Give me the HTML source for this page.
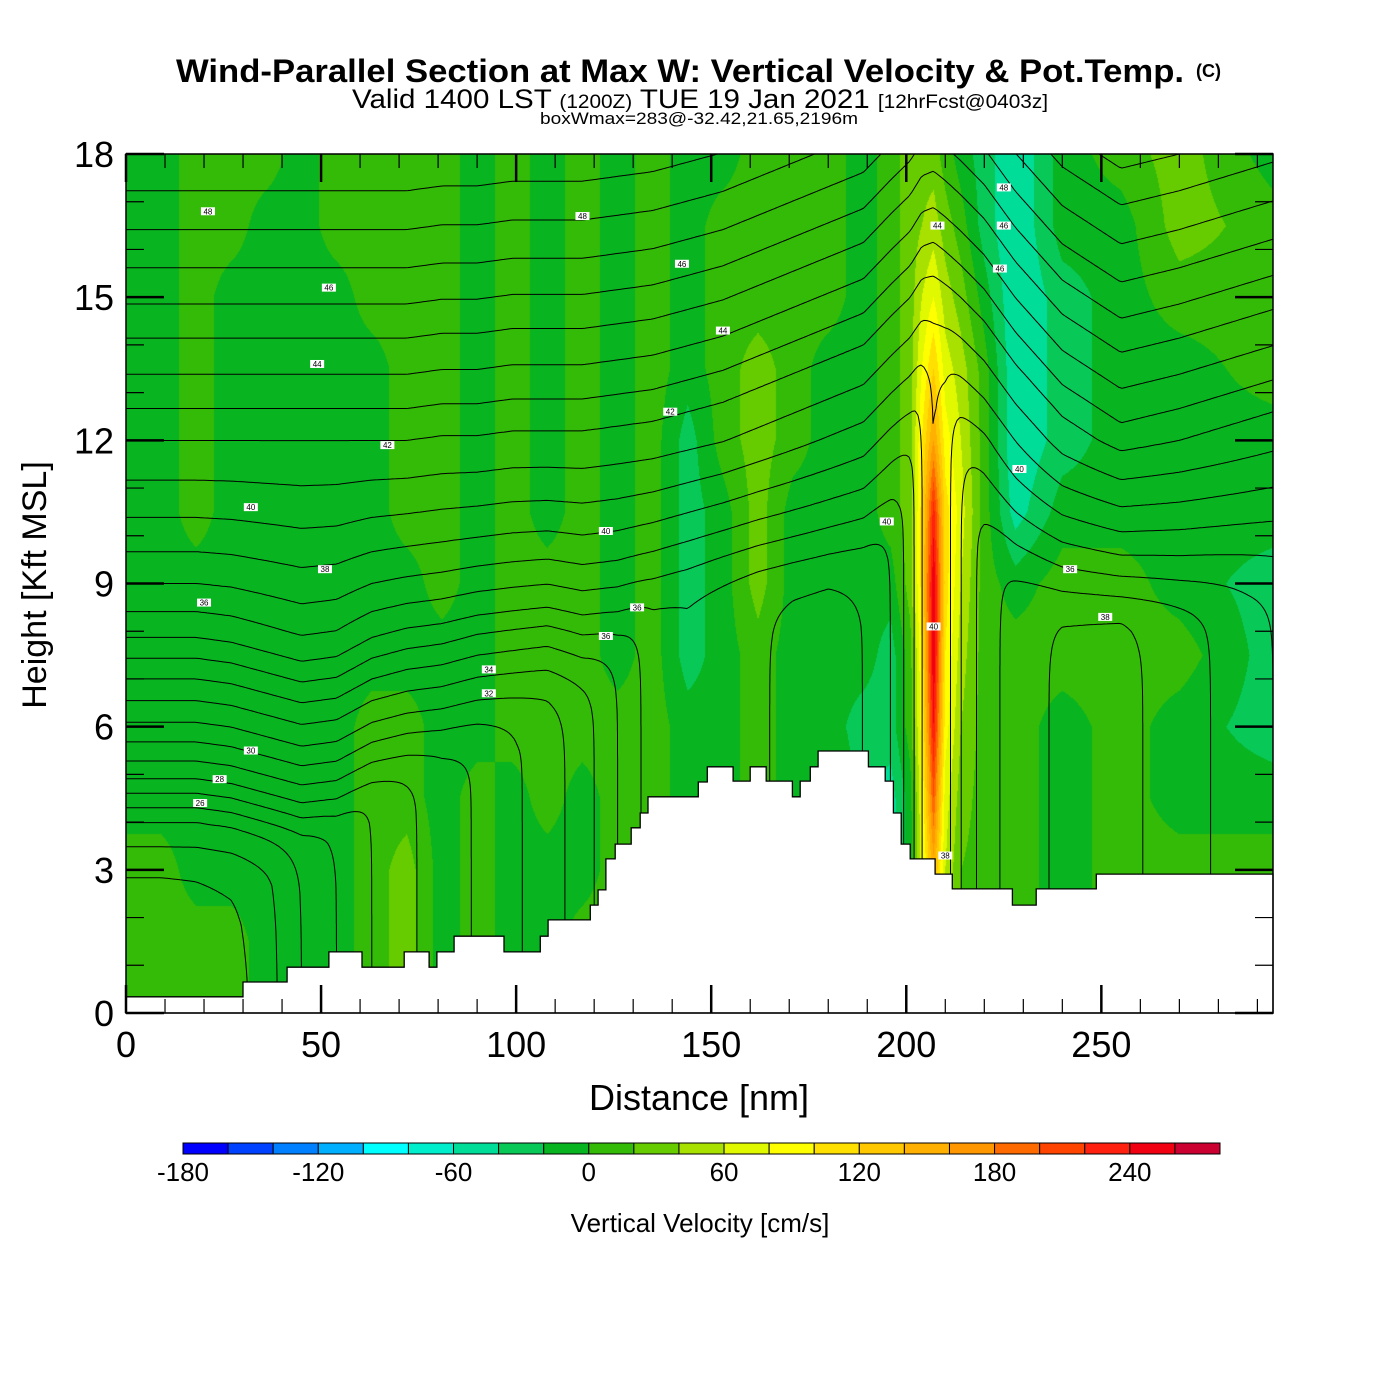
<!DOCTYPE html>
<html><head><meta charset="utf-8">
<style>
html,body{margin:0;padding:0;background:#fff;}
#wrap{position:relative;width:1400px;height:1400px;overflow:hidden;font-family:"Liberation Sans",Arial,sans-serif;}
#field{position:absolute;left:126px;top:154px;}
#ov{position:absolute;left:0;top:0;}
</style></head>
<body>
<div id="wrap">
<canvas id="field" width="1147" height="859"></canvas>
<svg id="ov" width="1400" height="1400" xmlns="http://www.w3.org/2000/svg">
  <g id="contours" fill="none" stroke="#000" stroke-width="1"></g>
  <path id="terrain" fill="#fff" stroke="#000" stroke-width="1.3"></path>
  <g id="clabels"></g>
  <rect x="126" y="154" width="1147" height="859" fill="none" stroke="#000" stroke-width="1.5"></rect>
  <g id="ticks" stroke="#000"></g>
  <g id="tlabels" font-family="Liberation Sans, Arial, sans-serif" font-size="36" fill="#000"></g>
  <text x="680" y="82" text-anchor="middle" font-size="32" font-weight="bold" textLength="1008" lengthAdjust="spacingAndGlyphs">Wind-Parallel Section at Max W: Vertical Velocity &amp; Pot.Temp.</text>
  <text x="1196" y="77" font-size="18" font-weight="bold">(C)</text>
  <text x="352" y="108" font-size="27" textLength="696" lengthAdjust="spacingAndGlyphs">Valid 1400 LST <tspan font-size="19">(1200Z)</tspan> TUE 19 Jan 2021 <tspan font-size="19">[12hrFcst@0403z]</tspan></text>
  <text x="540" y="124" font-size="17" textLength="318" lengthAdjust="spacingAndGlyphs">boxWmax=283@-32.42,21.65,2196m</text>
  <text x="699" y="1110" text-anchor="middle" font-size="36">Distance [nm]</text>
  <text transform="translate(46,585) rotate(-90)" text-anchor="middle" font-size="34">Height [Kft MSL]</text>
  <g id="cbar"></g>
  <text x="700" y="1232" text-anchor="middle" font-size="26">Vertical Velocity [cm/s]</text>
</svg>
</div>
<script>
// ---- data ----
const xs=[0,9,18,27,36,45,54,63,72,81,90,99,108,117,126,135,144,153,162,171,180,189,196,201,204,207,210,214,220,228,240,255,270,294];
const wHeights=[0,1.5,3,4.5,6,7.5,9,10.5,12,13.5,15,16.5,18];
const w00=[10,10,10,10,-10,-10,-10,10,30,-10,10,-10,-10,10,10,10,-10,-10,10,-10,10,-30,-50,-10,70,150,60,20,10,10,-10,10,10,10];
const w15=[10,10,10,10,-10,-10,-10,10,30,-10,10,-10,-10,10,10,10,-10,-10,10,-10,10,-30,-50,-10,70,150,60,20,10,10,-10,10,10,10];
const w30=[10,10,-10,-10,-10,-10,-10,10,30,-10,10,-10,-10,-10,10,10,-10,-10,10,-10,10,-30,-50,-10,70,150,60,20,10,10,-10,10,10,10];
const w45=[-10,-10,-10,-10,-10,-10,-10,10,10,-10,10,-10,10,-10,10,10,-10,-10,10,-10,10,-30,-50,-10,80,200,70,30,10,10,-10,10,-10,-10];
const w60=[-10,-10,-10,-10,-10,-10,-10,10,10,-10,-10,10,10,10,10,10,-10,-10,10,-10,-10,-30,-30,10,90,240,90,40,10,10,-10,10,-10,-30];
const w75=[-10,-10,-10,-10,-10,-10,-10,-10,-10,-10,-10,10,10,10,-10,10,-30,-10,10,-10,-10,-10,-30,10,100,260,100,50,10,10,10,10,10,-30];
const w90=[-10,-10,-10,-10,-10,-10,-10,-10,-10,10,-10,10,10,10,-10,10,-30,-10,30,-10,-10,-10,-10,30,110,260,110,60,10,-10,10,10,-10,-30];
const w105=[-10,-10,10,-10,-10,-10,-10,-10,10,10,-10,10,-10,10,-10,10,-30,-10,30,-10,-10,-10,10,30,110,230,110,70,10,-50,-10,-10,-10,-10];
const w120=[-10,-10,10,-10,-10,-10,-10,-10,10,10,-10,10,-10,10,-10,10,-30,10,30,10,-10,-10,10,30,100,160,90,60,10,-60,-30,-10,-10,-10];
const w135=[-10,-10,10,-10,-10,-10,-10,-10,10,10,-10,10,-10,10,-10,10,-10,10,30,10,-10,-10,10,30,80,120,70,50,10,-60,-30,-10,-10,10];
const w150=[-10,-10,10,-10,-10,-10,-10,10,10,10,-10,10,-10,10,-10,10,-10,10,10,10,10,-10,10,30,60,80,50,30,-10,-60,-30,-10,10,10];
const w165=[-10,-10,10,10,-10,-10,10,10,10,10,-10,10,-10,10,-10,10,-10,10,10,10,10,-10,10,30,40,50,30,10,-30,-60,-10,-10,30,10];
const w180=[-10,-10,10,10,10,-10,10,10,10,10,-10,10,-10,10,-10,10,-10,-10,10,10,10,-10,10,30,30,30,10,-10,-30,-60,-10,10,30,-10];
const wRows=[w00,w15,w30,w45,w60,w75,w90,w105,w120,w135,w150,w165,w180];
const bandColors=["#0000ff","#0040ff","#0080ff","#00b0ff","#00ffff","#00eecc","#00dd99","#08c858","#08b420","#33bb08","#66cc00","#a8e000","#e0f800","#ffff00","#ffe000","#ffc800","#ffb000","#ff9800","#ff6a00","#ff4400","#ff2010","#f00010","#cc0030"];
const bandMin=-180, bandStep=20;
// potential temperature: base profile at left edge (h=0..18 kft), mixed-layer values and isentrope lift per column
const thetaBase=[21.8,22.2,22.7,23.5,25.5,28.8,31.3,33.5,35.8,37.5,39,40.3,41.5,43,44.3,45.7,47,48.2,49.5];
const thetaMixed=[22,22,22.3,22.8,24,25.5,26.5,27.5,28.3,29,29.6,30.3,31,32,33.5,35,35.3,35,34.6,34.3,34.2,34.5,35.5,37,38.5,39.5,39,37.5,36,35,34.3,34.2,35,36.5];
const liftMid=[0,0,0,-0.1,-0.3,-0.5,-0.4,0,0.2,0.3,0.5,0.6,0.7,0.5,0.6,0.9,1.2,1.5,1.7,1.8,1.9,2.0,2.3,2.8,3.3,3.6,3.3,2.5,1.8,1.4,1.2,1.2,1.0,0.8];
const liftUp=[0,0,0,0,0,0,0,0,0,0.1,0.1,0.2,0.2,0.2,0.3,0.4,0.6,0.8,1.1,1.4,1.7,2.0,2.6,3.0,3.4,3.5,3.3,3.0,2.5,1.6,0.5,-0.3,0,0.6];
const terrainX=[0,30,41.3,52,60.5,71.3,77.7,79.7,84.1,96.9,106.2,108.2,119,121,123,125.4,129.5,131.8,133.8,146.7,149,155.6,160,164.1,170.8,172.8,175.4,177.4,190.3,194.6,196.7,198.7,201,207.4,211.8,227.2,233.3,248.7,294];
const terrainH=[0.34,0.65,0.96,1.28,0.96,1.28,0.96,1.28,1.61,1.28,1.61,1.95,2.26,2.58,3.23,3.54,3.88,4.19,4.53,4.84,5.16,4.86,5.16,4.86,4.53,4.86,5.16,5.49,5.16,4.86,4.19,3.54,3.23,2.91,2.6,2.26,2.6,2.91];
const xTicks=[0,50,100,150,200,250];
const yTicks=[0,3,6,9,12,15,18];
const cbTicks=[-180,-120,-60,0,60,120,180,240];
const labelX=[21,117,52,142.5,49,153,139.5,67,208,225,225,224,32,123,195,229,51,20,131,123,93,93,32,24,19,207,210,242,251];
const labelH=[16.8,16.7,15.2,15.7,13.6,14.3,12.6,11.9,16.5,17.3,16.5,15.6,10.6,10.1,10.3,11.4,9.3,8.6,8.5,7.9,7.2,6.7,5.5,4.9,4.4,8.1,3.3,9.3,8.3];
const labelText=["48","48","46","46","44","44","42","42","44","48","46","46","40","40","40","40","38","36","36","36","34","32","30","28","26","40","38","36","38"];

// ---- axes ----
const X0=126,X1=1273,Y0=1013,Y1=154,XMAX=294,HMAX=18;
function X(nm){return X0+nm*(X1-X0)/XMAX;}
function Y(h){return Y0-h*(Y0-Y1)/HMAX;}
const NS="http://www.w3.org/2000/svg";
function mk(tag,attrs,parent){const e=document.createElementNS(NS,tag);for(const k in attrs)e.setAttribute(k,attrs[k]);parent.appendChild(e);return e;}

function colIndex(nm){let i=0;while(i<xs.length-2&&nm>xs[i+1])i++;return i;}
function lerpCol(arr,nm){const i=colIndex(nm);const t=Math.max(0,Math.min(1,(nm-xs[i])/(xs[i+1]-xs[i])));return arr[i]*(1-t)+arr[i+1]*t;}

// ---- vertical velocity fill ----
(function(){
  const cv=document.getElementById('field');const ctx=cv.getContext('2d');
  const W=cv.width,H=cv.height;const img=ctx.createImageData(W,H);
  const rgb=bandColors.map(c=>[parseInt(c.substr(1,2),16),parseInt(c.substr(3,2),16),parseInt(c.substr(5,2),16)]);
  const ci=[],ct=[];
  for(let px=0;px<W;px++){const nm=(px+0.5)*XMAX/(X1-X0);const i=colIndex(nm);ci.push(i);ct.push(Math.max(0,Math.min(1,(nm-xs[i])/(xs[i+1]-xs[i]))));}
  const dh=wHeights[1]-wHeights[0];
  for(let py=0;py<H;py++){
    const h=(H-py-0.5)*HMAX/(Y0-Y1);
    let r=Math.min(wRows.length-2,Math.floor(h/dh));const u=(h-wHeights[r])/dh;
    const A=wRows[r],B=wRows[r+1];
    for(let px=0;px<W;px++){
      const i=ci[px],t=ct[px];
      const v=(A[i]*(1-t)+A[i+1]*t)*(1-u)+(B[i]*(1-t)+B[i+1]*t)*u;
      let b=Math.floor((v-bandMin)/bandStep);b=Math.max(0,Math.min(rgb.length-1,b));
      const o=(py*W+px)*4;img.data[o]=rgb[b][0];img.data[o+1]=rgb[b][1];img.data[o+2]=rgb[b][2];img.data[o+3]=255;
    }
  }
  ctx.putImageData(img,0,0);
})();

// ---- theta contours ----
function baseTheta(z){if(z<=0)return thetaBase[0];if(z>=18)return thetaBase[18]+(z-18)*1.3;const k=Math.floor(z);return thetaBase[k]+(thetaBase[k+1]-thetaBase[k])*(z-k);}
function theta(nm,h){
  const m=lerpCol(thetaMixed,nm),sm=lerpCol(liftMid,nm),su=lerpCol(liftUp,nm);
  const f=Math.max(0,Math.min(1,(h-8)/4));const s=sm*(1-f)+su*f;
  const b=baseTheta(h-s);const k=0.8;const mx=Math.max(m,b);
  return mx+k*Math.log(Math.exp((m-mx)/k)+Math.exp((b-mx)/k));
}
(function(){
  const g=document.getElementById('contours');
  const step=3;const nx=Math.ceil((X1-X0)/step)+1,ny=Math.ceil((Y0-Y1)/step)+1;
  const gx=[],gy=[];for(let i=0;i<nx;i++)gx.push(Math.min(X1,X0+i*step));for(let j=0;j<ny;j++)gy.push(Math.min(Y0,Y1+j*step));
  const T=[];for(let j=0;j<ny;j++){const row=[];const h=(Y0-gy[j])*HMAX/(Y0-Y1);for(let i=0;i<nx;i++){row.push(theta((gx[i]-X0)*XMAX/(X1-X0),h));}T.push(row);}
  for(let L=20.5;L<53;L+=1){
    let d="";
    for(let j=0;j<ny-1;j++)for(let i=0;i<nx-1;i++){
      const a=T[j][i],b=T[j][i+1],c=T[j+1][i+1],e=T[j+1][i];
      const pts=[];
      if((a-L)*(b-L)<0){const t=(L-a)/(b-a);pts.push([gx[i]+t*(gx[i+1]-gx[i]),gy[j]]);}
      if((b-L)*(c-L)<0){const t=(L-b)/(c-b);pts.push([gx[i+1],gy[j]+t*(gy[j+1]-gy[j])]);}
      if((e-L)*(c-L)<0){const t=(L-e)/(c-e);pts.push([gx[i]+t*(gx[i+1]-gx[i]),gy[j+1]]);}
      if((a-L)*(e-L)<0){const t=(L-a)/(e-a);pts.push([gx[i],gy[j]+t*(gy[j+1]-gy[j])]);}
      for(let k=0;k+1<pts.length;k+=2)d+="M"+pts[k][0].toFixed(1)+" "+pts[k][1].toFixed(1)+"L"+pts[k+1][0].toFixed(1)+" "+pts[k+1][1].toFixed(1);
    }
    if(d){const p=mk('path',{d:d},g);
      
      }
  }
})();

// ---- terrain ----
(function(){
  let d="M"+X(0)+" "+Y0;
  for(let i=0;i<terrainH.length;i++){d+="L"+X(terrainX[i]).toFixed(1)+" "+Y(terrainH[i]).toFixed(1)+"L"+X(terrainX[i+1]).toFixed(1)+" "+Y(terrainH[i]).toFixed(1);}
  d+="L"+X(XMAX)+" "+Y0+"Z";
  document.getElementById('terrain').setAttribute('d',d);
})();

// ---- contour labels ----
(function(){
  const g=document.getElementById('clabels');
  for(let k=0;k<labelText.length;k++){
    const x=X(labelX[k]),y=Y(labelH[k]);
    const r=mk('rect',{x:x-7,y:y-4,width:14,height:8,fill:'#fff'},g);
    
    
    const t=mk('text',{x:x,y:y+3,'text-anchor':'middle','font-size':8,'font-family':'Liberation Sans, Arial, sans-serif'},g);
    
    
    t.textContent=labelText[k];
  }
})();

// ---- ticks & labels ----
(function(){
  const g=document.getElementById('ticks'),tl=document.getElementById('tlabels');
  for(let v=0;v<=XMAX;v+=10){
    const major=v%50===0;const len=major?28:14;const x=X(v);
    const a=mk('line',{x1:x,y1:Y0,x2:x,y2:Y0-len,'stroke-width':major?2.5:1.2},g);
    
    
    const b=mk('line',{x1:x,y1:Y1,x2:x,y2:Y1+len,'stroke-width':major?2.5:1.2},g);
    
    
  }
  for(let v=0;v<=HMAX;v+=1){
    const major=v%3===0;const len=major?38:18;const y=Y(v);
    const a=mk('line',{x1:X0,y1:y,x2:X0+len,y2:y,'stroke-width':major?2.5:1.2},g);
    
    
    const b=mk('line',{x1:X1,y1:y,x2:X1-len,y2:y,'stroke-width':major?2.5:1.2},g);
    
    
  }
  xTicks.forEach(v=>{const t=mk('text',{x:X(v),y:1057,'text-anchor':'middle'},tl);
    
    
    t.textContent=v;});
  yTicks.forEach(v=>{const t=mk('text',{x:114,y:Y(v)+13,'text-anchor':'end'},tl);
    
    
    t.textContent=v;});
})();

// ---- colorbar ----
(function(){
  const g=document.getElementById('cbar');
  const cx0=183,cx1=1220,cy=1143,ch=11;const bw=(cx1-cx0)/bandColors.length;
  function CX(v){return cx0+(v-bandMin)/bandStep*bw;}
  bandColors.forEach((c,k)=>{const r=mk('rect',{x:cx0+k*bw,y:cy,width:bw,height:ch,fill:c,stroke:'#000','stroke-width':1},g);
    
    });
  cbTicks.forEach(v=>{const t=mk('text',{x:CX(v),y:1181,'text-anchor':'middle','font-size':26,'font-family':'Liberation Sans, Arial, sans-serif'},g);
    
    
    t.textContent=v;});
})();
</script>
</body></html>
